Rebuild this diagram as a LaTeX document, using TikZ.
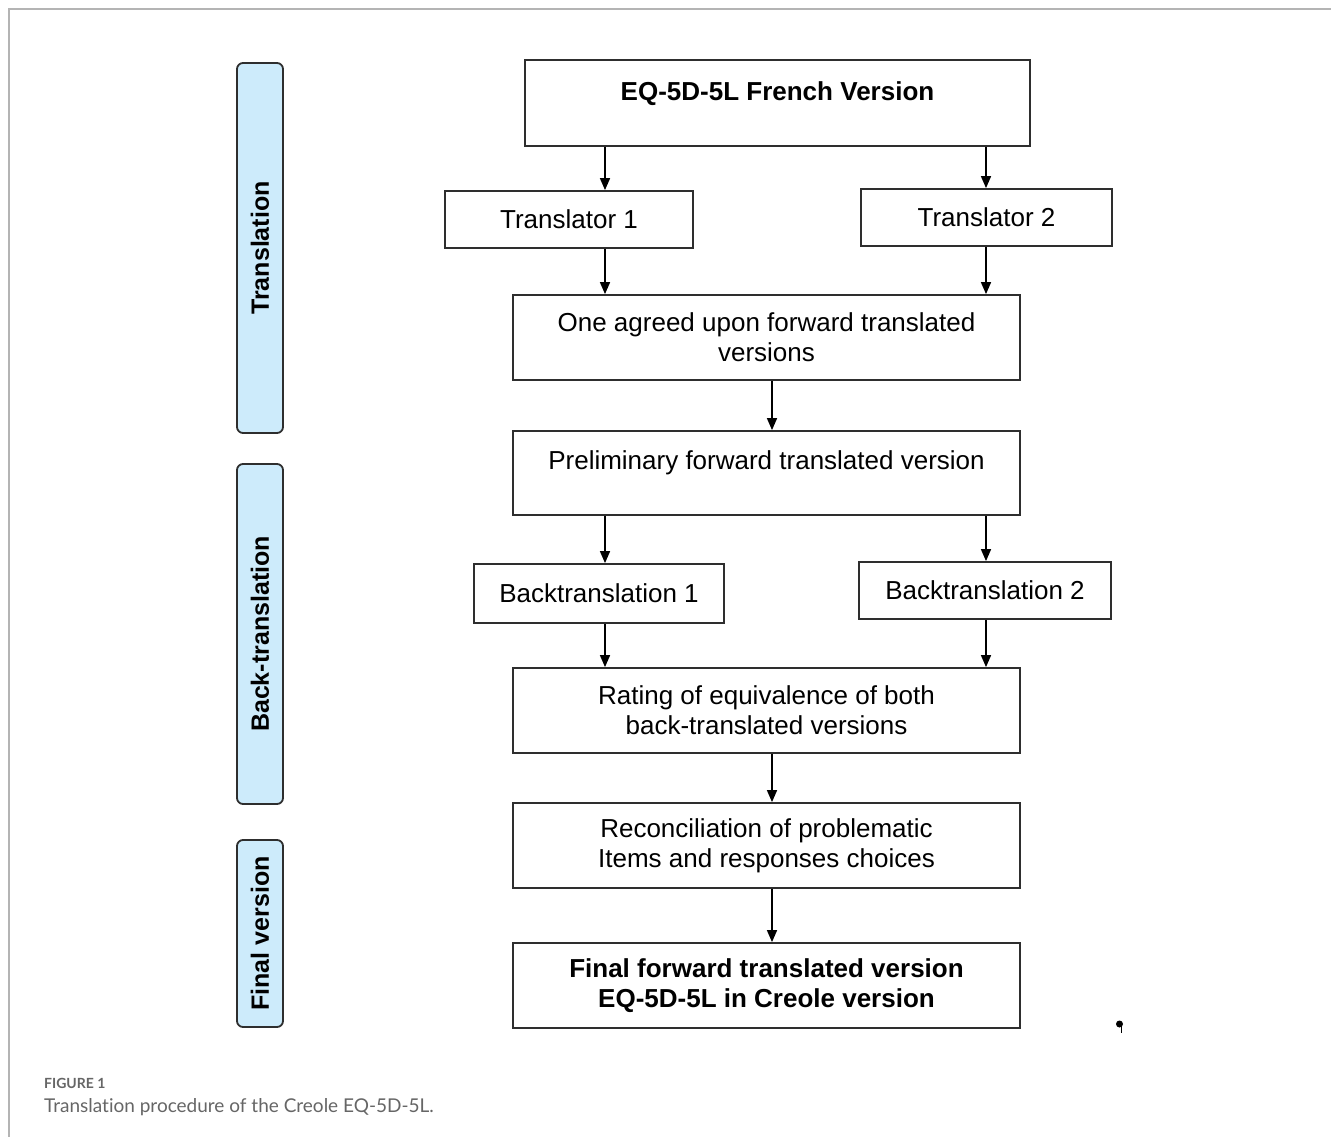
\documentclass[tikz,border=0pt]{standalone}
\usepackage{fontspec}
\setmainfont{Liberation Sans}
\newfontfamily\capfont[Ligatures=NoCommon]{Lato}
\usetikzlibrary{arrows.meta}
\definecolor{barblue}{HTML}{CDEBFB}
\definecolor{edge}{HTML}{2E2E2E}
\definecolor{frameg}{HTML}{B4B4B4}
\definecolor{capg}{HTML}{666666}
\begin{document}
\begin{tikzpicture}[x=1pt,y=-1pt,
  box/.style={draw=edge, line width=1.8pt, fill=white, rectangle, inner sep=0pt,
    align=center, font=\fontsize{26}{30}\selectfont},
  txt/.style={inner sep=0pt, align=center, font=\fontsize{26}{30}\selectfont},
  bar/.style={draw=edge, line width=1.8pt, fill=barblue, rounded corners=6pt,
    rotate=90, inner sep=0pt, minimum height=46pt, font=\bfseries\fontsize{25}{30}\selectfont},
  arr/.style={draw=black, line width=1.6pt, -{Triangle[length=12pt,width=10pt]}}]
\useasboundingbox (0,0) rectangle (1331,1137);
\fill[white] (0,0) rectangle (1331,1137);
% frame
\draw[frameg, line width=1.5pt] (9,1137) -- (9,9) -- (1331,9);

% side bars
\node[bar, minimum width=370pt] (btrans) at (260,248) {Translation};
\node[bar, minimum width=340pt] (bback) at (260,634) {Back-translation};
\node[bar, minimum width=187pt] (bfinal) at (260,933.5) {Final version};

% boxes
\node[box, minimum width=505pt, minimum height=86pt] (eq) at (777.5,103) {};
\node[txt, font=\bfseries\fontsize{26}{30}\selectfont] (eqtxt) at (777.5,94) {EQ-5D-5L French Version};
\node[box, minimum width=248pt, minimum height=57pt] (t1) at (569,219.5) {\raisebox{-2pt}{Translator 1}};
\node[box, minimum width=251pt, minimum height=57pt] (t2) at (986.5,217.5) {\raisebox{-2pt}{Translator 2}};
\node[box, minimum width=507pt, minimum height=85pt] (agree) at (766.5,337.5) {One agreed upon forward translated\\versions};
\node[box, minimum width=507pt, minimum height=84pt] (prelim) at (766.5,473) {};
\node[txt] (prelimtxt) at (766.5,463) {Preliminary forward translated version};
\node[box, minimum width=250pt, minimum height=59pt] (bt1) at (599,593.5) {\raisebox{-2pt}{Backtranslation 1}};
\node[box, minimum width=252pt, minimum height=57pt] (bt2) at (985,590.5) {\raisebox{-2pt}{Backtranslation 2}};
\node[box, minimum width=507pt, minimum height=85pt] (rating) at (766.5,710.5) {Rating of equivalence of both\\back-translated versions};
\node[box, minimum width=507pt, minimum height=85pt] (recon) at (766.5,845.5) {Reconciliation of problematic\\Items and responses choices};
\node[box, minimum width=507pt, minimum height=85pt, font=\bfseries\fontsize{26}{30}\selectfont] (final) at (766.5,985.5) {Final forward translated version\\EQ-5D-5L in Creole version};

% arrow columns
\coordinate (cL) at (605,0);
\coordinate (cR) at (986,0);
\coordinate (cM) at (772,0);

\draw[arr] (eq.south -| cL) -- (t1.north -| cL);
\draw[arr] (eq.south -| cR) -- (t2.north -| cR);
\draw[arr] (t1.south -| cL) -- (agree.north -| cL);
\draw[arr] (t2.south -| cR) -- (agree.north -| cR);
\draw[arr] (agree.south -| cM) -- (prelim.north -| cM);
\draw[arr] (prelim.south -| cL) -- (bt1.north -| cL);
\draw[arr] (prelim.south -| cR) -- (bt2.north -| cR);
\draw[arr] (bt1.south -| cL) -- (rating.north -| cL);
\draw[arr] (bt2.south -| cR) -- (rating.north -| cR);
\draw[arr] (rating.south -| cM) -- (recon.north -| cM);
\draw[arr] (recon.south -| cM) -- (final.north -| cM);

% stray mark
\fill (1119.5,1024) circle (3.5pt);
\draw[line width=1.3pt] (1121.5,1024) -- (1121.5,1033);

% caption
\node[anchor=base west, inner sep=0pt, text=capg, font=\capfont\bfseries\fontsize{14}{16}\selectfont] (fig) at (44,1088) {FIGURE 1};
\node[anchor=base west, inner sep=0pt, text=capg, font=\capfont\fontsize{19}{22}\selectfont] (cap) at (44,1112) {Translation procedure of the Creole EQ-5D-5L.};
\end{tikzpicture}
\end{document}
